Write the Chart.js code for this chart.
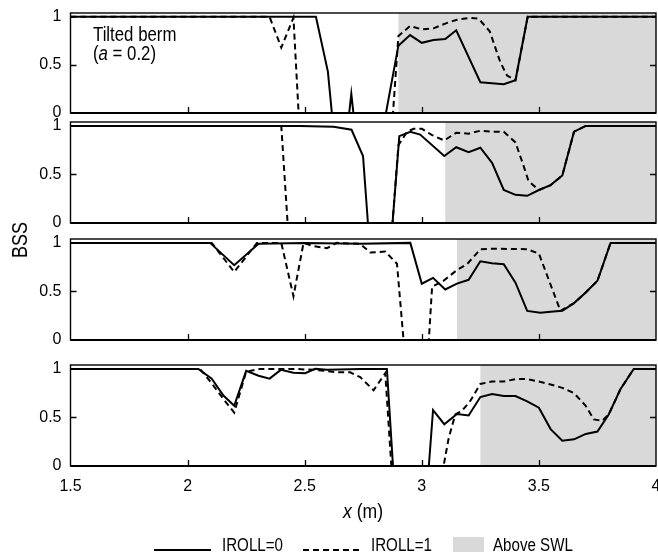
<!DOCTYPE html>
<html>
<head>
<meta charset="utf-8">
<script src="https://cdn.jsdelivr.net/npm/chart.js@4.4.1/dist/chart.umd.min.js"></script>
<style>
  html, body { margin: 0; padding: 0; background: #fff; }
  #wrap { position: relative; width: 658px; height: 554px; overflow: hidden;
          font-family: "Liberation Sans", Arial, sans-serif; color: #000; }
  #wrap canvas { position: absolute; left: 0; }
  .txt { position: absolute; white-space: nowrap; }
  #note { left: 93px; top: 25px; font-size: 20px; line-height: 19px; transform: scaleX(0.84); transform-origin: 0 0; }
  #ylab { left: 20px; top: 240px; font-size: 22px; transform: translate(-50%, -50%) rotate(-90deg) scaleX(0.82); }
  #xlab { left: 363px; top: 511px; font-size: 21px; transform: translate(-50%, -50%) scaleX(0.84); }
  .leg { position: absolute; top: 536px; font-size: 18px; line-height: 18px; transform: scaleX(0.84); transform-origin: 0 0; }
  .sw { position: absolute; }
</style>
</head>
<body>
<div id="wrap">
  <canvas id="p1"></canvas>
  <canvas id="p2"></canvas>
  <canvas id="p3"></canvas>
  <canvas id="p4"></canvas>
  <div class="txt" id="note">Tilted berm<br>(<i>a</i> = 0.2)</div>
  <div class="txt" id="ylab">BSS</div>
  <div class="txt" id="xlab"><i>x</i> (m)</div>
  <div class="sw" style="left:154px; top:549px; width:57px; height:2px; background:#000;"></div>
  <div class="leg" style="left:222px;">IROLL=0</div>
  <div class="sw" style="left:303px; top:549px; width:58px; height:2px; background:repeating-linear-gradient(90deg,#000 0 6px,transparent 6px 10px);"></div>
  <div class="leg" style="left:371px;">IROLL=1</div>
  <div class="sw" style="left:453px; top:537px; width:31px; height:15px; background:#d9d9d9;"></div>
  <div class="leg" style="left:493px;">Above SWL</div>
</div>

<script>
// x ticks and y ticks shared by all four panels
const xMin = 1.5, xMax = 4, xStep = 0.5;
const yTicks = [0, 0.5, 1];
const innerXTicks = [2, 2.5, 3, 3.5];

// start of the "Above SWL" zone per panel
const swlStart = [2.90, 3.10, 3.15, 3.25];

// panel 1
const p1SolidX = [1.5, 2.548, 2.599, 2.616, 2.69, 2.699, 2.708, 2.847, 2.90, 2.95, 3.0, 3.05, 3.10, 3.147, 3.25, 3.35, 3.40, 3.452, 4.0];
const p1SolidY = [1, 1, 0.43, 0, 0, 0.20, 0, 0, 0.70, 0.81, 0.73, 0.76, 0.77, 0.86, 0.32, 0.30, 0.34, 1, 1];
const p1DashX = [1.5, 2.35, 2.40, 2.452, 2.474, 2.877, 2.90, 2.95, 3.0, 3.05, 3.10, 3.15, 3.207, 3.243, 3.29, 3.335, 3.364, 3.40, 3.452, 4.0];
const p1DashY = [1, 1, 0.68, 0.99, 0, 0, 0.80, 0.905, 0.87, 0.88, 0.93, 0.97, 0.99, 0.98, 0.85, 0.53, 0.39, 0.34, 1, 1];

// panel 2
const p2SolidX = [1.5, 2.48, 2.623, 2.70, 2.749, 2.77, 2.875, 2.904, 2.951, 2.993, 3.096, 3.147, 3.20, 3.25, 3.30, 3.35, 3.40, 3.45, 3.50, 3.55, 3.60, 3.65, 3.70, 4.0];
const p2SolidY = [1, 1, 0.99, 0.96, 0.69, 0, 0, 0.895, 0.94, 0.91, 0.69, 0.78, 0.73, 0.775, 0.62, 0.34, 0.29, 0.28, 0.34, 0.39, 0.49, 0.94, 1, 1];
const p2DashX = [1.5, 2.40, 2.427, 2.875, 2.90, 2.937, 2.965, 3.0, 3.044, 3.096, 3.147, 3.20, 3.25, 3.30, 3.35, 3.40, 3.435, 3.456, 3.50, 3.55, 3.60, 3.65, 3.70, 4.0];
const p2DashY = [1, 1, 0, 0, 0.80, 0.94, 0.97, 0.97, 0.905, 0.85, 0.93, 0.92, 0.95, 0.94, 0.94, 0.83, 0.585, 0.43, 0.34, 0.39, 0.49, 0.94, 1, 1];

// panel 3
const p3SolidX = [1.5, 2.096, 2.199, 2.303, 2.50, 2.737, 2.951, 3.0, 3.048, 3.10, 3.15, 3.20, 3.25, 3.30, 3.35, 3.40, 3.45, 3.506, 3.55, 3.60, 3.65, 3.70, 3.75, 3.806, 4.0];
const p3SolidY = [1, 1, 0.77, 0.99, 1, 0.99, 1, 0.58, 0.64, 0.52, 0.58, 0.62, 0.81, 0.79, 0.78, 0.59, 0.30, 0.28, 0.29, 0.30, 0.38, 0.49, 0.61, 1, 1];
const p3DashX = [1.5, 2.103, 2.199, 2.296, 2.40, 2.452, 2.495, 2.53, 2.595, 2.637, 2.737, 2.78, 2.844, 2.894, 2.922, 3.03, 3.044, 3.093, 3.15, 3.193, 3.25, 3.307, 3.45, 3.50, 3.592, 3.65, 3.70, 3.75, 3.806, 4.0];
const p3DashY = [1, 1, 0.70, 1, 1, 0.45, 1, 0.97, 0.945, 1, 0.99, 0.90, 0.91, 0.785, 0, 0, 0.55, 0.61, 0.72, 0.78, 0.935, 0.94, 0.935, 0.89, 0.30, 0.38, 0.49, 0.61, 1, 1];

// panel 4
const p4SolidX = [1.5, 2.046, 2.103, 2.153, 2.199, 2.25, 2.303, 2.35, 2.398, 2.452, 2.502, 2.545, 2.595, 2.737, 2.851, 2.877, 3.03, 3.048, 3.096, 3.15, 3.20, 3.25, 3.30, 3.35, 3.40, 3.45, 3.50, 3.55, 3.60, 3.65, 3.70, 3.75, 3.798, 3.848, 3.905, 4.0];
const p4SolidY = [1, 1, 0.90, 0.725, 0.62, 0.98, 0.93, 0.90, 0.99, 0.96, 0.955, 1, 0.99, 1, 1, 0, 0, 0.575, 0.43, 0.535, 0.52, 0.71, 0.74, 0.72, 0.72, 0.665, 0.60, 0.38, 0.26, 0.275, 0.33, 0.355, 0.53, 0.79, 1, 1];
const p4DashX = [1.5, 2.053, 2.10, 2.153, 2.199, 2.25, 2.31, 2.45, 2.545, 2.637, 2.694, 2.737, 2.794, 2.844, 2.87, 3.093, 3.115, 3.143, 3.172, 3.207, 3.25, 3.30, 3.35, 3.40, 3.45, 3.50, 3.55, 3.60, 3.65, 3.70, 3.734, 3.77, 3.798, 3.848, 3.905, 4.0];
const p4DashY = [1, 1, 0.86, 0.69, 0.55, 0.97, 1, 1, 0.99, 0.965, 0.965, 0.915, 0.78, 0.955, 0, 0, 0.29, 0.53, 0.57, 0.67, 0.845, 0.87, 0.87, 0.895, 0.895, 0.87, 0.84, 0.805, 0.75, 0.62, 0.48, 0.465, 0.53, 0.79, 1, 1];

(function() {
    'use strict';

    Chart.defaults.font.family = '"Liberation Sans", Arial, sans-serif';
    Chart.defaults.font.size = 16;
    Chart.defaults.color = '#000';

    const panels = [
        { id: 'p1', top: 13, h: 100, sx: p1SolidX, sy: p1SolidY, dx: p1DashX, dy: p1DashY },
        { id: 'p2', top: 122, h: 101, sx: p2SolidX, sy: p2SolidY, dx: p2DashX, dy: p2DashY },
        { id: 'p3', top: 239, h: 101, sx: p3SolidX, sy: p3SolidY, dx: p3DashX, dy: p3DashY },
        { id: 'p4', top: 365, h: 101, sx: p4SolidX, sy: p4SolidY, dx: p4DashX, dy: p4DashY, last: true }
    ];

    const pad = 8;
    const xAxisH = 40;
    const extraBottom = 4;

    const zip = (xs, ys) => xs.map((x, i) => ({ x: x, y: ys[i] }));

    // gray SWL zone behind lines, frame and inward ticks on top
    const panelDeco = {
        id: 'panelDeco',
        beforeDatasetsDraw: function(chart, args, opts) {
            const a = chart.chartArea;
            const ctx = chart.ctx;
            const x0 = chart.scales.x.getPixelForValue(opts.swl);
            ctx.save();
            ctx.fillStyle = '#d9d9d9';
            ctx.fillRect(x0, a.top, a.right - x0, a.bottom - a.top);
            ctx.restore();
        },
        afterDatasetsDraw: function(chart) {
            const a = chart.chartArea;
            const ctx = chart.ctx;
            const xs = chart.scales.x;
            const ys = chart.scales.y;
            ctx.save();
            ctx.strokeStyle = '#000';
            ctx.lineWidth = 1.4;
            ctx.strokeRect(a.left, a.top, a.right - a.left, a.bottom - a.top);
            ctx.lineWidth = 2.2;
            ctx.beginPath();
            ctx.moveTo(a.left, a.bottom);
            ctx.lineTo(a.right, a.bottom);
            ctx.stroke();
            ctx.lineWidth = 1.3;
            ctx.beginPath();
            innerXTicks.forEach(v => {
                const px = Math.round(xs.getPixelForValue(v)) + 0.5;
                ctx.moveTo(px, a.bottom);
                ctx.lineTo(px, a.bottom - 6);
            });
            const py = Math.round(ys.getPixelForValue(0.5)) + 0.5;
            ctx.moveTo(a.left, py);
            ctx.lineTo(a.left + 6, py);
            ctx.moveTo(a.right, py);
            ctx.lineTo(a.right - 6, py);
            ctx.stroke();
            ctx.restore();
        }
    };

    panels.forEach((p, i) => {
        const cv = document.getElementById(p.id);
        const bottomRoom = p.last ? xAxisH + extraBottom : pad;
        cv.width = 658;
        cv.height = p.h + pad + bottomRoom;
        cv.style.top = (p.top - pad) + 'px';

        new Chart(cv, {
            type: 'line',
            data: {
                datasets: [{
                    label: 'IROLL=0',
                    data: zip(p.sx, p.sy),
                    borderColor: '#000',
                    borderWidth: 2,
                    pointRadius: 0,
                    tension: 0
                }, {
                    label: 'IROLL=1',
                    data: zip(p.dx, p.dy),
                    borderColor: '#000',
                    borderWidth: 2,
                    borderDash: [6, 4],
                    pointRadius: 0,
                    tension: 0
                }]
            },
            options: {
                responsive: false,
                animation: false,
                layout: { padding: { left: 0, right: 2, top: pad, bottom: p.last ? extraBottom : pad } },
                plugins: {
                    legend: { display: false },
                    tooltip: { enabled: false },
                    panelDeco: { swl: swlStart[i] }
                },
                scales: {
                    x: {
                        type: 'linear',
                        min: xMin,
                        max: xMax,
                        display: !!p.last,
                        grid: { display: false, drawTicks: false },
                        border: { display: false },
                        ticks: { stepSize: xStep, padding: 11, maxRotation: 0, autoSkip: false, callback: v => String(v) },
                        afterFit: s => {
                            s.height = p.last ? xAxisH : 0;
                            s.paddingLeft = 0;
                            s.paddingRight = 0;
                        }
                    },
                    y: {
                        min: 0,
                        max: 1.04,
                        grid: { display: false, drawTicks: false },
                        border: { display: false },
                        ticks: { padding: 9, callback: v => String(v) },
                        afterBuildTicks: s => { s.ticks = yTicks.map(v => ({ value: v })); },
                        afterFit: s => { s.width = 70.5; s.paddingTop = 0; s.paddingBottom = 0; }
                    }
                }
            },
            plugins: [panelDeco]
        });
    });
})();
</script>
</body>
</html>
